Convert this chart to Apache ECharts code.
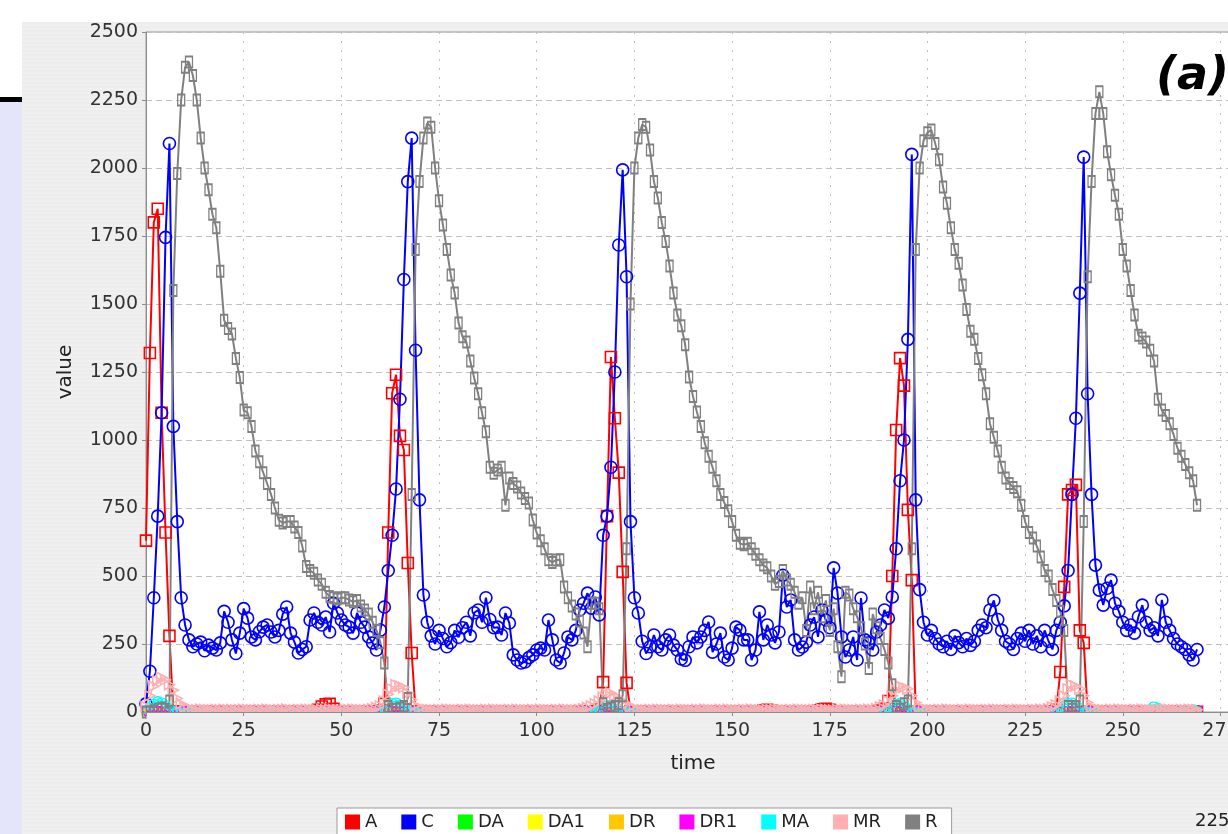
<!DOCTYPE html>
<html>
<head>
<meta charset="utf-8">
<script src="https://cdn.jsdelivr.net/npm/echarts@6/dist/echarts.min.js"></script>
<style>
  html, body { margin: 0; padding: 0; width: 1228px; height: 834px; overflow: hidden; background: #ffffff; }
  #panel { position: absolute; left: 22px; top: 22px; width: 1206px; height: 812px;
           background: repeating-linear-gradient(to bottom, #ededed 0px, #ededed 2px, #f0f0f0 2px, #f0f0f0 4px); }
  #side { position: absolute; left: 0; top: 100px; width: 22px; height: 734px; background: #e4e4fa; }
  #rule { position: absolute; left: 0; top: 97px; width: 22px; height: 5px; background: #000; }
  #chart { position: absolute; left: 0; top: 0; width: 1260px; height: 834px; }
</style>
</head>
<body>
<div id="side"></div>
<div id="rule"></div>
<div id="panel"></div>
<div id="chart"></div>
<script>
// Sampling grid of the simulation output (one sample per time unit)
const T_START = 0;
const T_STEP = 1;

// Activator
const A = [
  630, 1320, 1800, 1850, 1100, 660, 280, 2, 1, 0,
  1, 0, 2, 1, 0, 1, 2, 0, 1, 0,
  2, 1, 0, 1, 2, 0, 1, 0, 2, 1,
  0, 1, 2, 0, 1, 0, 2, 1, 0, 1,
  2, 0, 1, 3, 8, 20, 28, 30, 12, 2,
  1, 0, 2, 1, 0, 1, 2, 0, 1, 2,
  5, 30, 660, 1172, 1240, 1015, 963, 548, 217, 2,
  1, 0, 2, 1, 0, 1, 2, 0, 1, 0,
  2, 1, 0, 1, 2, 0, 1, 0, 2, 1,
  0, 1, 2, 0, 1, 0, 2, 1, 0, 1,
  2, 0, 1, 0, 2, 1, 0, 1, 2, 0,
  1, 0, 2, 1, 0, 3, 8, 110, 720, 1305,
  1080, 880, 515, 107, 3, 1, 0, 2, 1, 0,
  1, 2, 0, 1, 0, 2, 1, 0, 1, 2,
  0, 1, 0, 2, 1, 0, 1, 2, 0, 1,
  0, 2, 1, 0, 1, 2, 0, 1, 5, 8,
  4, 1, 0, 2, 1, 0, 1, 2, 0, 1,
  0, 2, 5, 10, 12, 8, 1, 0, 2, 1,
  0, 1, 2, 0, 1, 0, 2, 1, 5, 12,
  40, 500, 1037, 1301, 1200, 743, 485, 3, 1, 0,
  2, 1, 0, 1, 2, 0, 1, 0, 2, 1,
  0, 1, 2, 0, 1, 0, 2, 1, 0, 1,
  2, 0, 1, 0, 2, 1, 0, 1, 2, 0,
  1, 0, 2, 8, 147, 460, 800, 816, 835, 300,
  254, 3, 1, 0, 2, 1, 0, 1, 2, 0,
  1, 0, 2, 1, 0, 1, 2, 0, 1, 0,
  2, 1, 0, 1, 2, 0, 1, 0, 2, 1
];

// Complex
const C = [
  30, 150, 420, 720, 1100, 1745, 2090, 1050, 700, 420,
  320, 265, 240, 250, 257, 225, 246, 235, 228, 254,
  370, 330, 265, 215, 290, 380, 345, 276, 265, 295,
  312, 320, 294, 276, 300, 360, 386, 290, 257, 217,
  230, 240, 338, 364, 330, 320, 349, 294, 400, 364,
  338, 320, 312, 290, 364, 330, 312, 276, 254, 228,
  301, 386, 520, 650, 820, 1150, 1590, 1950, 2110, 1330,
  780, 430, 330, 280, 250, 300, 270, 240, 255, 300,
  275, 310, 330, 280, 365, 375, 330, 420, 340, 310,
  312, 283, 364, 327, 210, 191, 180, 184, 200, 210,
  228, 235, 228, 338, 265, 191, 180, 217, 276, 265,
  300, 375, 400, 437, 382, 423, 357, 650, 720, 900,
  1250, 1717, 1993, 1600, 700, 420, 364, 260, 215, 240,
  283, 240, 228, 265, 283, 246, 228, 195, 190, 240,
  276, 254, 276, 300, 331, 220, 250, 290, 202, 191,
  235, 312, 301, 265, 265, 191, 228, 368, 265, 320,
  283, 254, 294, 503, 386, 412, 265, 228, 239, 257,
  320, 349, 276, 375, 338, 310, 530, 437, 276, 202,
  228, 276, 191, 419, 265, 254, 228, 294, 320, 375,
  345, 423, 600, 850, 1000, 1370, 2050, 780, 450, 330,
  283, 300, 270, 250, 240, 260, 230, 280, 255, 240,
  270, 245, 260, 300, 320, 310, 375, 410, 340, 300,
  260, 250, 230, 270, 290, 260, 300, 250, 280, 240,
  300, 260, 230, 300, 330, 390, 520, 800, 1080, 1540,
  2040, 1170, 800, 540, 448, 393, 455, 485, 400, 370,
  330, 300, 320, 290, 350, 393, 330, 300, 310, 280,
  412, 330, 300, 270, 250, 240, 230, 210, 191, 230
];

// Activator gene, free
const DA = [
  0, 0, 0, 0, 0, 0, 0, 1, 1, 1,
  1, 1, 1, 1, 1, 1, 1, 1, 1, 1,
  1, 1, 1, 1, 1, 1, 1, 1, 1, 1,
  1, 1, 1, 1, 1, 1, 1, 1, 1, 1,
  1, 1, 1, 1, 1, 1, 1, 1, 1, 1,
  1, 1, 1, 1, 1, 1, 1, 1, 1, 1,
  1, 1, 0, 0, 0, 0, 0, 0, 1, 1,
  1, 1, 1, 1, 1, 1, 1, 1, 1, 1,
  1, 1, 1, 1, 1, 1, 1, 1, 1, 1,
  1, 1, 1, 1, 1, 1, 1, 1, 1, 1,
  1, 1, 1, 1, 1, 1, 1, 1, 1, 1,
  1, 1, 1, 1, 1, 1, 1, 0, 0, 0,
  0, 0, 0, 1, 1, 1, 1, 1, 1, 1,
  1, 1, 1, 1, 1, 1, 1, 1, 1, 1,
  1, 1, 1, 1, 1, 1, 1, 1, 1, 1,
  1, 1, 1, 1, 1, 1, 1, 1, 1, 1,
  1, 1, 1, 1, 1, 1, 1, 1, 1, 1,
  1, 1, 1, 1, 1, 1, 1, 1, 1, 1,
  1, 1, 1, 1, 1, 1, 1, 1, 1, 1,
  1, 0, 0, 0, 0, 0, 0, 1, 1, 1,
  1, 1, 1, 1, 1, 1, 1, 1, 1, 1,
  1, 1, 1, 1, 1, 1, 1, 1, 1, 1,
  1, 1, 1, 1, 1, 1, 1, 1, 1, 1,
  1, 1, 1, 1, 1, 0, 0, 0, 0, 0,
  0, 0, 1, 1, 1, 1, 1, 1, 1, 1,
  1, 1, 1, 1, 1, 1, 1, 1, 1, 1,
  1, 1, 1, 1, 1, 1, 1, 1, 1, 1
];

// Activator gene, bound
const DA1 = [
  1, 1, 1, 1, 1, 1, 1, 0, 0, 0,
  0, 0, 0, 0, 0, 0, 0, 0, 0, 0,
  0, 0, 0, 0, 0, 0, 0, 0, 0, 0,
  0, 0, 0, 0, 0, 0, 0, 0, 0, 0,
  0, 0, 0, 0, 0, 0, 0, 0, 0, 0,
  0, 0, 0, 0, 0, 0, 0, 0, 0, 0,
  0, 0, 1, 1, 1, 1, 1, 1, 0, 0,
  0, 0, 0, 0, 0, 0, 0, 0, 0, 0,
  0, 0, 0, 0, 0, 0, 0, 0, 0, 0,
  0, 0, 0, 0, 0, 0, 0, 0, 0, 0,
  0, 0, 0, 0, 0, 0, 0, 0, 0, 0,
  0, 0, 0, 0, 0, 0, 0, 1, 1, 1,
  1, 1, 1, 0, 0, 0, 0, 0, 0, 0,
  0, 0, 0, 0, 0, 0, 0, 0, 0, 0,
  0, 0, 0, 0, 0, 0, 0, 0, 0, 0,
  0, 0, 0, 0, 0, 0, 0, 0, 0, 0,
  0, 0, 0, 0, 0, 0, 0, 0, 0, 0,
  0, 0, 0, 0, 0, 0, 0, 0, 0, 0,
  0, 0, 0, 0, 0, 0, 0, 0, 0, 0,
  0, 1, 1, 1, 1, 1, 1, 0, 0, 0,
  0, 0, 0, 0, 0, 0, 0, 0, 0, 0,
  0, 0, 0, 0, 0, 0, 0, 0, 0, 0,
  0, 0, 0, 0, 0, 0, 0, 0, 0, 0,
  0, 0, 0, 0, 0, 1, 1, 1, 1, 1,
  1, 1, 0, 0, 0, 0, 0, 0, 0, 0,
  0, 0, 0, 0, 0, 0, 0, 0, 0, 0,
  0, 0, 0, 0, 0, 0, 0, 0, 0, 0
];

// Repressor gene, free
const DR = [
  1, 0, 0, 0, 0, 0, 0, 0, 1, 1,
  1, 1, 1, 1, 1, 1, 1, 1, 1, 1,
  1, 1, 1, 1, 1, 1, 1, 1, 1, 1,
  1, 1, 1, 1, 1, 1, 1, 1, 1, 1,
  1, 1, 1, 1, 1, 1, 1, 1, 1, 1,
  1, 1, 1, 1, 1, 1, 1, 1, 1, 1,
  1, 1, 1, 0, 0, 0, 0, 0, 0, 0,
  1, 1, 1, 1, 1, 1, 1, 1, 1, 1,
  1, 1, 1, 1, 1, 1, 1, 1, 1, 1,
  1, 1, 1, 1, 1, 1, 1, 1, 1, 1,
  1, 1, 1, 1, 1, 1, 1, 1, 1, 1,
  1, 1, 1, 1, 1, 1, 1, 1, 0, 0,
  0, 0, 0, 0, 0, 1, 1, 1, 1, 1,
  1, 1, 1, 1, 1, 1, 1, 1, 1, 1,
  1, 1, 1, 1, 1, 1, 1, 1, 1, 1,
  1, 1, 1, 1, 1, 1, 1, 1, 1, 1,
  1, 1, 1, 1, 1, 1, 1, 1, 1, 1,
  1, 1, 1, 1, 1, 1, 1, 1, 1, 1,
  1, 1, 1, 1, 1, 1, 1, 1, 1, 1,
  1, 1, 0, 0, 0, 0, 0, 0, 1, 1,
  1, 1, 1, 1, 1, 1, 1, 1, 1, 1,
  1, 1, 1, 1, 1, 1, 1, 1, 1, 1,
  1, 1, 1, 1, 1, 1, 1, 1, 1, 1,
  1, 1, 1, 1, 1, 1, 0, 0, 0, 0,
  0, 0, 0, 1, 1, 1, 1, 1, 1, 1,
  1, 1, 1, 1, 1, 1, 1, 1, 1, 1,
  1, 1, 1, 1, 1, 1, 1, 1, 1, 1
];

// Repressor gene, bound
const DR1 = [
  0, 1, 1, 1, 1, 1, 1, 1, 0, 0,
  0, 0, 0, 0, 0, 0, 0, 0, 0, 0,
  0, 0, 0, 0, 0, 0, 0, 0, 0, 0,
  0, 0, 0, 0, 0, 0, 0, 0, 0, 0,
  0, 0, 0, 0, 0, 0, 0, 0, 0, 0,
  0, 0, 0, 0, 0, 0, 0, 0, 0, 0,
  0, 0, 0, 1, 1, 1, 1, 1, 1, 1,
  0, 0, 0, 0, 0, 0, 0, 0, 0, 0,
  0, 0, 0, 0, 0, 0, 0, 0, 0, 0,
  0, 0, 0, 0, 0, 0, 0, 0, 0, 0,
  0, 0, 0, 0, 0, 0, 0, 0, 0, 0,
  0, 0, 0, 0, 0, 0, 0, 0, 1, 1,
  1, 1, 1, 1, 1, 0, 0, 0, 0, 0,
  0, 0, 0, 0, 0, 0, 0, 0, 0, 0,
  0, 0, 0, 0, 0, 0, 0, 0, 0, 0,
  0, 0, 0, 0, 0, 0, 0, 0, 0, 0,
  0, 0, 0, 0, 0, 0, 0, 0, 0, 0,
  0, 0, 0, 0, 0, 0, 0, 0, 0, 0,
  0, 0, 0, 0, 0, 0, 0, 0, 0, 0,
  0, 0, 1, 1, 1, 1, 1, 1, 0, 0,
  0, 0, 0, 0, 0, 0, 0, 0, 0, 0,
  0, 0, 0, 0, 0, 0, 0, 0, 0, 0,
  0, 0, 0, 0, 0, 0, 0, 0, 0, 0,
  0, 0, 0, 0, 0, 0, 1, 1, 1, 1,
  1, 1, 1, 0, 0, 0, 0, 0, 0, 0,
  0, 0, 0, 0, 0, 0, 0, 0, 0, 0,
  0, 0, 0, 0, 0, 0, 0, 0, 0, 0
];

// Activator mRNA
const MA = [
  5, 20, 35, 45, 40, 30, 18, 8, 5, 3,
  3, 2, 4, 3, 2, 3, 4, 3, 2, 3,
  4, 3, 2, 3, 4, 3, 2, 3, 4, 3,
  2, 3, 4, 3, 2, 3, 4, 3, 2, 3,
  4, 3, 2, 3, 4, 3, 2, 3, 4, 3,
  2, 3, 4, 3, 2, 3, 4, 3, 2, 3,
  4, 10, 25, 38, 40, 32, 20, 10, 5, 3,
  3, 2, 4, 3, 2, 3, 4, 3, 2, 3,
  4, 3, 2, 3, 4, 3, 2, 3, 4, 3,
  2, 3, 4, 3, 2, 3, 4, 3, 2, 3,
  4, 3, 2, 3, 4, 3, 2, 3, 4, 3,
  2, 3, 4, 3, 2, 4, 8, 20, 30, 32,
  25, 15, 8, 4, 3, 2, 3, 4, 3, 2,
  3, 4, 3, 2, 3, 4, 3, 2, 3, 4,
  3, 2, 3, 4, 3, 2, 3, 4, 3, 2,
  3, 4, 3, 2, 3, 4, 3, 2, 3, 4,
  3, 2, 3, 4, 3, 2, 3, 4, 3, 2,
  3, 4, 3, 2, 3, 4, 3, 2, 3, 4,
  3, 2, 3, 4, 3, 2, 3, 4, 3, 5,
  12, 25, 35, 38, 30, 18, 8, 4, 3, 2,
  3, 4, 3, 2, 3, 4, 3, 2, 3, 4,
  3, 2, 3, 4, 3, 2, 3, 4, 3, 2,
  3, 4, 3, 2, 3, 4, 3, 2, 3, 4,
  3, 2, 3, 5, 12, 28, 38, 40, 32, 20,
  10, 5, 3, 2, 3, 4, 3, 2, 3, 4,
  3, 2, 3, 4, 3, 3, 8, 15, 25, 20,
  6, 3, 2, 3, 4, 3, 2, 10, 15, 8
];

// Repressor mRNA
const MR = [
  20, 60, 95, 115, 128, 118, 100, 80, 50, 30,
  18, 12, 9, 8, 10, 9, 8, 7, 9, 8,
  10, 8, 9, 7, 8, 10, 9, 8, 7, 9,
  8, 10, 9, 7, 8, 9, 11, 8, 7, 9,
  8, 10, 9, 8, 7, 9, 8, 10, 9, 8,
  7, 9, 8, 10, 9, 8, 7, 9, 12, 16,
  22, 40, 65, 85, 100, 95, 90, 70, 45, 25,
  14, 10, 9, 8, 7, 9, 8, 10, 9, 8,
  7, 9, 8, 10, 9, 8, 7, 9, 8, 10,
  9, 8, 7, 9, 8, 10, 9, 8, 7, 9,
  8, 10, 9, 8, 7, 9, 8, 10, 9, 8,
  7, 9, 12, 16, 22, 30, 40, 55, 65, 70,
  60, 50, 40, 30, 18, 12, 9, 8, 7, 9,
  8, 10, 9, 8, 7, 9, 8, 10, 9, 8,
  7, 9, 8, 10, 9, 8, 7, 9, 8, 10,
  9, 8, 7, 9, 8, 10, 9, 8, 7, 9,
  8, 10, 9, 8, 7, 9, 8, 10, 9, 8,
  7, 9, 8, 10, 9, 8, 7, 9, 8, 10,
  9, 8, 7, 9, 8, 10, 9, 12, 18, 26,
  40, 60, 80, 95, 90, 85, 60, 35, 18, 12,
  9, 8, 7, 9, 8, 10, 9, 8, 7, 9,
  8, 10, 9, 8, 7, 9, 8, 10, 9, 8,
  7, 9, 8, 10, 9, 8, 7, 9, 8, 10,
  9, 12, 18, 26, 40, 60, 85, 100, 95, 85,
  60, 35, 18, 12, 9, 8, 7, 9, 8, 10,
  9, 8, 7, 9, 8, 10, 9, 8, 7, 9,
  8, 10, 9, 8, 7, 9, 8, 10, 9, 8
];

// Repressor protein
const R = [
  0, 0, 5, 10, 15, 10, 40, 1550, 1980, 2250,
  2370, 2390, 2340, 2250, 2110, 2000, 1920, 1830, 1780, 1620,
  1440, 1410, 1390, 1300, 1230, 1110, 1100, 1050, 960, 920,
  880, 840, 800, 750, 705, 695, 700, 700, 680, 660,
  610, 535, 520, 510, 485, 470, 440, 425, 420, 415,
  420, 420, 412, 405, 410, 390, 375, 360, 330, 300,
  255, 180, 20, 10, 10, 15, 20, 50, 800, 1700,
  1950, 2110, 2165, 2150, 2000, 1880, 1790, 1700, 1607, 1540,
  1430, 1380, 1360, 1290, 1228, 1170, 1100, 1030, 900, 878,
  890, 900, 760, 860, 840, 827, 805, 785, 768, 706,
  658, 630, 600, 560, 550, 559, 560, 460, 420, 390,
  360, 335, 290, 240, 400, 400, 380, 30, 10, 15,
  20, 30, 60, 600, 1500, 2000, 2110, 2160, 2150, 2066,
  1950, 1890, 1800, 1730, 1640, 1540, 1460, 1420, 1350, 1232,
  1160, 1103, 1050, 990, 940, 900, 850, 800, 770, 740,
  700, 650, 620, 615, 620, 600, 580, 560, 540, 530,
  500, 470, 480, 520, 485, 470, 440, 400, 420, 300,
  460, 380, 440, 350, 410, 300, 380, 240, 130, 440,
  430, 380, 350, 310, 250, 160, 360, 310, 270, 230,
  180, 100, 20, 10, 30, 40, 600, 1700, 2000, 2100,
  2130, 2140, 2090, 2030, 1930, 1870, 1780, 1700, 1650, 1570,
  1480, 1400, 1370, 1300, 1240, 1170, 1060, 1010, 960, 900,
  860, 840, 825, 810, 760, 700, 660, 640, 610, 570,
  520, 500, 450, 410, 370, 300, 20, 10, 20, 40,
  700, 1600, 1950, 2200, 2280, 2200, 2060, 1975, 1900, 1830,
  1700, 1640, 1550, 1460, 1385, 1375, 1360, 1330, 1290, 1150,
  1110, 1090, 1060, 1020, 970, 940, 910, 880, 850, 760
];

// Axis ticks
const X_TICKS = { min: 0, max: 280, step: 25, lastLabel: 275 };
const Y_TICKS = { min: 0, max: 2500, step: 250 };

const FONT = '"DejaVu Sans", "Noto Sans", sans-serif';
const PANEL_GRAY = '#eeeeee';
const AXIS_GRAY = '#8c8c8c';
const GRID_GRAY = '#c0c0c0';

// Legend order, colours and marker shapes; the first series is painted first
const SERIES = [
  { name: 'A',   data: A,   color: '#ff0000', symbol: 'rect',     size: 11,      rotate: 0,   width: 2 },
  { name: 'C',   data: C,   color: '#0000ff', symbol: 'circle',   size: 12,      rotate: 0,   width: 2 },
  { name: 'DA',  data: DA,  color: '#00ff00', symbol: 'triangle', size: 6,       rotate: 0,   width: 1 },
  { name: 'DA1', data: DA1, color: '#ffff00', symbol: 'diamond',  size: 6,       rotate: 0,   width: 1 },
  { name: 'DR',  data: DR,  color: '#ffc800', symbol: 'rect',     size: [8, 5],  rotate: 0,   width: 1 },
  { name: 'DR1', data: DR1, color: '#ff00ff', symbol: 'triangle', size: 10,      rotate: 180, width: 1 },
  { name: 'MA',  data: MA,  color: '#00ffff', symbol: 'circle',   size: [9, 6],  rotate: 0,   width: 1.2 },
  { name: 'MR',  data: MR,  color: '#ffafaf', symbol: 'triangle', size: 10,      rotate: -90, width: 1.2 },
  { name: 'R',   data: R,   color: '#808080', symbol: 'rect',     size: [7, 11], rotate: 0,   width: 2 }
];

function toPoints(values) {
  return values.map((v, i) => [T_START + i * T_STEP, v]);
}

const seriesList = SERIES.map(s => ({
  name: s.name,
  type: 'line',
  data: toPoints(s.data),
  symbol: s.symbol,
  symbolSize: s.size,
  symbolRotate: s.rotate,
  showAllSymbol: true,
  silent: true,
  lineStyle: { color: s.color, width: s.width },
  itemStyle: { color: 'rgba(255,255,255,0)', borderColor: s.color, borderWidth: 1.6 },
  emphasis: { disabled: true }
}));

const xCommon = { type: 'value', gridIndex: 0, position: 'bottom',
                  min: X_TICKS.min, max: X_TICKS.max, interval: X_TICKS.step };

const chart = echarts.init(document.getElementById('chart'), null, { renderer: 'canvas' });
chart.setOption({
  animation: false,
  backgroundColor: 'transparent',
  textStyle: { fontFamily: FONT },
  grid: {
    left: 146, top: 32, width: 1094, height: 680,
    show: true, backgroundColor: '#ffffff', borderColor: '#9a9a9a', borderWidth: 1
  },
  legend: {
    data: SERIES.map(s => ({ name: s.name, itemStyle: { color: s.color, borderWidth: 0 } })),
    icon: 'rect',
    left: 337, top: 808,
    itemWidth: 15, itemHeight: 15, itemGap: 24,
    padding: [5, 14, 5, 8],
    backgroundColor: '#ffffff', borderColor: '#9a9a9a', borderWidth: 1,
    selectedMode: false,
    textStyle: { fontSize: 18, color: '#222', fontFamily: FONT }
  },
  xAxis: [
    // vertical grid lines, painted under the data
    Object.assign({}, xCommon, {
      axisLine: { show: false }, axisTick: { show: false }, axisLabel: { show: false },
      splitLine: { show: true, lineStyle: { color: GRID_GRAY, type: [2, 7], width: 1 } }
    }),
    // axis line, ticks and labels, painted over the data edge
    Object.assign({}, xCommon, {
      z: 10,
      name: 'time', nameLocation: 'middle', nameGap: 42,
      nameTextStyle: { fontSize: 20, color: '#222', fontFamily: FONT },
      axisLine: { show: true, onZero: false, lineStyle: { color: AXIS_GRAY, width: 1 } },
      axisTick: { show: true, length: 4, lineStyle: { color: AXIS_GRAY } },
      axisLabel: {
        fontSize: 19, color: '#333', margin: 10, fontFamily: FONT, showMaxLabel: false,
        formatter: v => (v <= X_TICKS.lastLabel ? String(v) : '')
      },
      splitLine: { show: false }
    })
  ],
  yAxis: {
    type: 'value', min: Y_TICKS.min, max: Y_TICKS.max, interval: Y_TICKS.step,
    name: 'value', nameLocation: 'middle', nameGap: 70, nameRotate: 90,
    nameTextStyle: { fontSize: 20, color: '#222', fontFamily: FONT },
    axisLine: { show: true, lineStyle: { color: AXIS_GRAY, width: 1 } },
    axisTick: { show: true, length: 4, lineStyle: { color: AXIS_GRAY } },
    axisLabel: { fontSize: 19, color: '#333', margin: 8, fontFamily: FONT, formatter: v => String(v) },
    splitLine: { show: true, lineStyle: { color: GRID_GRAY, type: [6, 4], width: 1 } }
  },
  graphic: [
    // plot-area clip below the time axis: markers sitting on zero show only their upper half
    { type: 'rect', z: 5, silent: true,
      shape: { x: 146.5, y: 712.5, width: 1120, height: 12 },
      style: { fill: PANEL_GRAY } },
    { type: 'text', left: 1156, top: 54, silent: true, z: 6,
      style: { text: '(a)', fill: '#000', font: 'italic bold 46px "DejaVu Sans", sans-serif' } },
    { type: 'text', left: 1195, top: 812, silent: true,
      style: { text: '225', fill: '#222', font: '18px "DejaVu Sans", sans-serif' } }
  ],
  series: seriesList
});
</script>
</body>
</html>
